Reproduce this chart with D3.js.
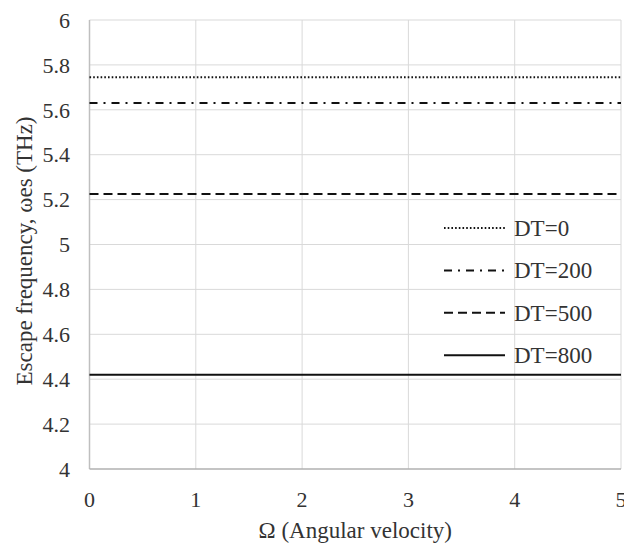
<html>
<head>
<style>
    body { margin: 0; background: white; }
    svg text { font-family: "Liberation Serif", "Times New Roman", Times, serif; fill: #333; }
    .grid line { stroke: #d9d9d9; stroke-width: 1; }
</style>
<script src="https://d3js.org/d3.v7.min.js"></script>
</head>
<body>
<svg width="624" height="546"></svg>
<script>
var seriesNames = ['DT=0', 'DT=200', 'DT=500', 'DT=800'];
var seriesValues = [5.745, 5.63, 5.225, 4.42]; // flat escape frequency per DT
var xDomain = [0, 5];
var yDomain = [4, 6];
var xTicks = [0, 1, 2, 3, 4, 5];
var yTicks = [4, 4.2, 4.4, 4.6, 4.8, 5, 5.2, 5.4, 5.6, 5.8, 6];
var dashes = ['1.6,2.1', '8,6,2,6', '9,5', null];

var margin = { left: 89.5, right: 3, top: 20, bottom: 77 };
var width = 624, height = 546;
var svg = d3.select('svg');

var x = d3.scaleLinear().domain(xDomain).range([margin.left, width - margin.right]);
var y = d3.scaleLinear().domain(yDomain).range([height - margin.bottom, margin.top]);

// gridlines
var grid = svg.append('g').attr('class', 'grid');
grid.selectAll('.h').data(yTicks.slice(1)).enter().append('line')
    .attr('x1', x(0)).attr('x2', x(5))
    .attr('y1', function (d) { return y(d); }).attr('y2', function (d) { return y(d); });
grid.selectAll('.v').data(xTicks.slice(1)).enter().append('line')
    .attr('y1', y(4)).attr('y2', y(6))
    .attr('x1', function (d) { return x(d); }).attr('x2', function (d) { return x(d); });

// axes lines
svg.append('line').attr('x1', x(0)).attr('x2', x(0)).attr('y1', y(4)).attr('y2', y(6))
    .attr('stroke', '#bfbfbf').attr('stroke-width', 1.5);
svg.append('line').attr('x1', x(0)).attr('x2', x(5)).attr('y1', y(4)).attr('y2', y(4))
    .attr('stroke', '#b0b0b0').attr('stroke-width', 1.5);

// tick labels
svg.selectAll('.ytl').data(yTicks).enter().append('text')
    .attr('x', 70).attr('y', function (d) { return y(d); })
    .attr('dy', '0.35em').attr('text-anchor', 'end').attr('font-size', 22)
    .text(function (d) { return d; });
svg.selectAll('.xtl').data(xTicks).enter().append('text')
    .attr('x', function (d) { return x(d); }).attr('y', y(4) + 38)
    .attr('text-anchor', 'middle').attr('font-size', 22)
    .text(function (d) { return d; });

// axis titles
svg.append('text')
    .attr('transform', 'translate(32,251) rotate(-90)')
    .attr('text-anchor', 'middle').attr('font-size', 23)
    .text('Escape frequency, ωes (THz)');
svg.append('text')
    .attr('x', (x(0) + x(5)) / 2).attr('y', y(4) + 69)
    .attr('text-anchor', 'middle').attr('font-size', 23)
    .text('Ω (Angular velocity)');

// series
svg.selectAll('.series').data(seriesValues).enter().append('line')
    .attr('x1', x(0)).attr('x2', x(5))
    .attr('y1', function (d) { return y(d); }).attr('y2', function (d) { return y(d); })
    .attr('stroke', '#111').attr('stroke-width', 2)
    .attr('stroke-dasharray', function (d, i) { return dashes[i]; });

// legend
var leg = svg.append('g').attr('transform', 'translate(444,228)');
var rows = leg.selectAll('g').data(seriesNames).enter().append('g')
    .attr('transform', function (d, i) { return 'translate(0,' + (i * 42.4) + ')'; });
rows.append('line').attr('x1', 0).attr('x2', 61).attr('y1', 0).attr('y2', 0)
    .attr('stroke', '#111').attr('stroke-width', 2)
    .attr('stroke-dasharray', function (d, i) { return dashes[i]; });
rows.append('text').attr('x', 70).attr('dy', '0.35em').attr('font-size', 23)
    .text(function (d) { return d; });
</script>
</body>
</html>
